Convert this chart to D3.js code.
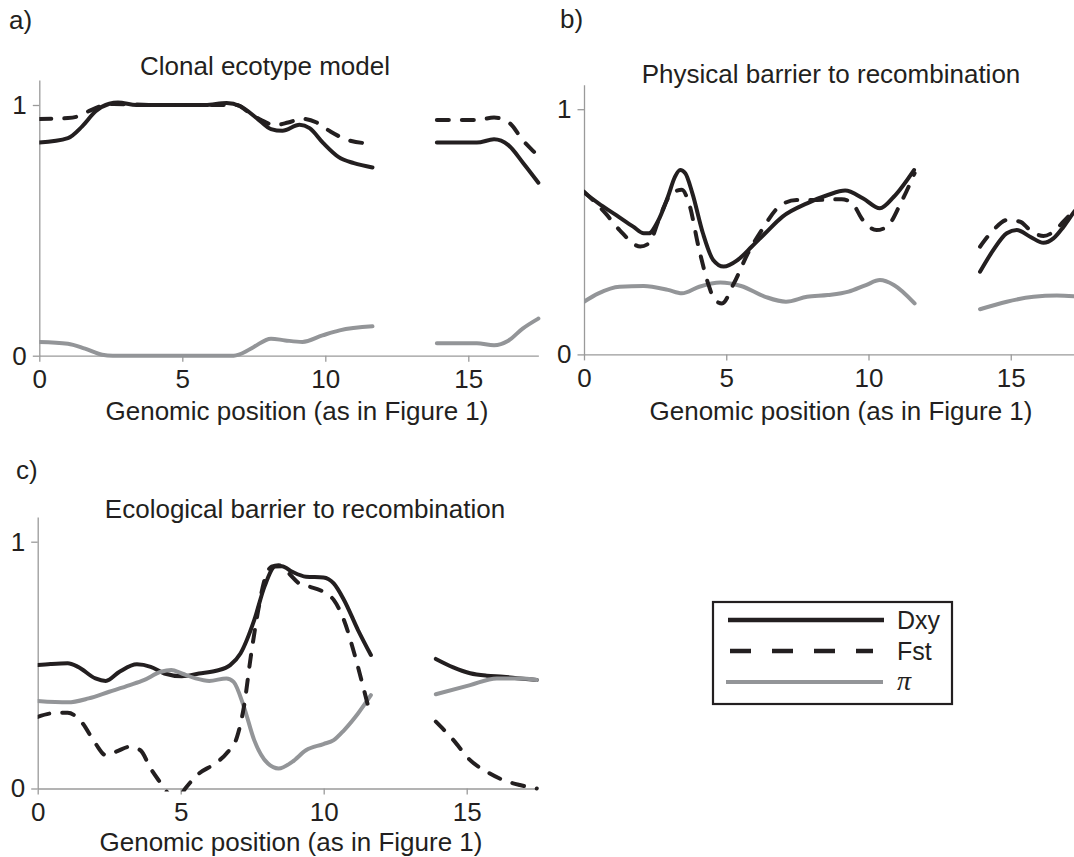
<!DOCTYPE html>
<meta charset="utf-8" />
<script src="https://d3js.org/d3.v7.min.js"></script>
<style>
  body { margin: 0; background: #fff; }
  text { font-family: "Liberation Sans", Arial, sans-serif; fill: #231f20; }
</style>
<div id="my_dataviz"></div>
<script>
  // genomic position ticks and value ticks
  const xTicks = [0, 5, 10, 15];
  const yTicks = [0, 1];

  // [position, value]; null marks the gap between the two segments
  const aDxy = [[0,0.85],[1.0,0.868],[1.5,0.915],[1.97,0.975],[2.45,1.005],[2.75,1.01],[3.4,1.0],[4.6,1.0],[5.8,1.0],[6.55,1.008],[7.03,0.995],[7.6,0.948],[8.1,0.904],[8.5,0.897],[9.1,0.921],[9.45,0.908],[9.93,0.848],[10.47,0.792],[11.0,0.768],[11.65,0.751],[12.8,null],[13.9,0.85],[15.3,0.85],[15.9,0.863],[16.4,0.84],[16.93,0.767],[17.45,0.69]];
  const aFst = [[0,0.944],[1.0,0.948],[1.36,0.955],[1.72,0.975],[2.2,0.997],[2.6,1.004],[4,1.0],[6.0,1.0],[6.9,1.0],[7.27,0.975],[7.76,0.94],[8.24,0.92],[8.7,0.93],[9.2,0.945],[9.7,0.93],[10.17,0.895],[10.77,0.861],[11.65,0.845],[12.8,null],[13.9,0.94],[15.3,0.94],[15.9,0.95],[16.45,0.927],[16.9,0.86],[17.35,0.807],[17.45,0.795]];
  const aPi = [[0,0.055],[1.0,0.048],[1.6,0.028],[2.2,0.004],[2.57,0],[6.8,0],[7.0,0.005],[7.5,0.035],[8.1,0.068],[8.6,0.061],[9.2,0.055],[9.9,0.081],[10.5,0.101],[11.65,0.117],[12.8,null],[13.9,0.05],[15.3,0.05],[15.9,0.042],[16.4,0.06],[16.9,0.108],[17.45,0.148]];

  const bDxy = [[0,0.66],[0.51,0.616],[1.12,0.569],[1.73,0.521],[2.1,0.494],[2.28,0.494],[2.59,0.541],[2.95,0.643],[3.2,0.725],[3.38,0.752],[3.56,0.739],[3.81,0.657],[4.18,0.494],[4.54,0.385],[4.91,0.358],[5.4,0.385],[5.9,0.44],[6.37,0.494],[6.98,0.562],[7.84,0.616],[8.57,0.65],[9.18,0.668],[9.8,0.637],[10.4,0.596],[10.89,0.643],[11.6,0.752],[12.8,null],[13.92,0.337],[14.39,0.426],[14.86,0.494],[15.21,0.507],[15.68,0.48],[16.15,0.455],[16.5,0.473],[16.85,0.52],[17.23,0.582],[17.45,0.615]];
  const bFst = [[0,0.664],[0.76,0.575],[1.25,0.507],[1.98,0.44],[2.28,0.453],[2.71,0.575],[3.08,0.657],[3.44,0.671],[3.69,0.616],[4.05,0.426],[4.36,0.29],[4.6,0.222],[4.85,0.208],[5.27,0.29],[5.76,0.412],[6.25,0.507],[6.86,0.603],[7.47,0.63],[8.2,0.63],[9.06,0.633],[9.43,0.616],[9.8,0.548],[10.28,0.507],[10.65,0.521],[11.13,0.616],[11.62,0.739],[12.8,null],[13.92,0.439],[14.39,0.507],[14.86,0.548],[15.33,0.541],[15.68,0.507],[16.15,0.483],[16.5,0.5],[16.85,0.541],[17.23,0.589],[17.45,0.62]];
  const bPi = [[0,0.215],[0.51,0.249],[1.25,0.276],[2.1,0.279],[2.95,0.263],[3.44,0.249],[4.05,0.276],[4.79,0.293],[5.52,0.279],[6.37,0.235],[7.1,0.215],[7.84,0.235],[8.57,0.242],[9.3,0.256],[9.91,0.283],[10.4,0.303],[10.89,0.283],[11.62,0.208],[12.8,null],[13.92,0.184],[14.86,0.215],[15.8,0.235],[16.62,0.24],[17.45,0.235]];

  const cDxy = [[0,0.5],[0.45,0.504],[1.05,0.507],[1.41,0.493],[2.02,0.446],[2.38,0.436],[2.86,0.473],[3.47,0.503],[3.95,0.493],[4.43,0.466],[5.04,0.455],[5.64,0.466],[6.24,0.477],[6.73,0.5],[7.09,0.547],[7.57,0.682],[7.93,0.818],[8.3,0.899],[8.54,0.901],[8.9,0.878],[9.38,0.858],[9.99,0.855],[10.35,0.831],[10.71,0.764],[11.2,0.642],[11.65,0.541],[12.8,null],[13.92,0.525],[14.53,0.491],[15.12,0.467],[15.7,0.457],[16.28,0.453],[16.86,0.446],[17.45,0.44]];
  const cFst = [[0,0.29],[0.45,0.304],[1.05,0.307],[1.53,0.27],[2.02,0.182],[2.38,0.135],[2.74,0.149],[3.22,0.169],[3.59,0.155],[3.95,0.081],[4.31,0.02],[4.49,-0.01],[4.85,-0.05],[5.16,0.0],[5.64,0.061],[6.12,0.095],[6.6,0.142],[6.97,0.209],[7.21,0.331],[7.45,0.534],[7.69,0.709],[7.93,0.845],[8.18,0.899],[8.42,0.905],[8.78,0.872],[9.14,0.831],[9.5,0.818],[9.99,0.797],[10.35,0.764],[10.71,0.682],[11.07,0.547],[11.44,0.385],[11.62,0.304],[12.8,null],[13.92,0.271],[14.53,0.197],[15.12,0.115],[15.7,0.068],[16.28,0.034],[16.86,0.014],[17.45,0.0]];
  const cPi = [[0,0.355],[1.05,0.349],[1.78,0.365],[2.5,0.392],[3.22,0.419],[3.71,0.439],[4.31,0.473],[4.67,0.48],[5.04,0.466],[5.52,0.446],[6.0,0.436],[6.6,0.446],[6.85,0.432],[7.21,0.331],[7.57,0.196],[8.05,0.101],[8.42,0.081],[8.9,0.108],[9.38,0.155],[9.99,0.18],[10.35,0.196],[10.71,0.236],[11.2,0.304],[11.65,0.378],[12.8,null],[13.92,0.382],[15.12,0.419],[16.05,0.446],[16.86,0.446],[17.45,0.44]];

  const seriesNames = ["Dxy", "Fst", "\u03c0"];

  const black = "#231f20",
    grey = "#939598";

  // panel layout (pixels)
  const panels = [
    { id: "a", letter: "a)", lx: 9, ly: 29, title: "Clonal ecotype model", tx: 265, ty: 75,
      left: 39.3, unit: 28.6, y0: 355.7, ppu: 250.7, labx: 297, laby: 420,
      dxy: aDxy, fst: aFst, pi: aPi },
    { id: "b", letter: "b)", lx: 560, ly: 28, title: "Physical barrier to recombination", tx: 831, ty: 83,
      left: 584, unit: 28.45, y0: 354.4, ppu: 245.2, labx: 841, laby: 420,
      dxy: bDxy, fst: bFst, pi: bPi },
    { id: "c", letter: "c)", lx: 16, ly: 479, title: "Ecological barrier to recombination", tx: 305, ty: 518,
      left: 37.7, unit: 28.6, y0: 788.5, ppu: 246.8, labx: 291, laby: 851,
      dxy: cDxy, fst: cFst, pi: cPi },
  ];

  const width = 1074,
    height = 857,
    xMax = 17.45;

  const svg = d3
    .select("#my_dataviz")
    .append("svg")
    .attr("width", width)
    .attr("height", height)
    .style("display", "block");

  svg.append("rect").attr("width", width).attr("height", height).attr("fill", "#fff");

  panels.forEach((p) => {
    const x = d3.scaleLinear().domain([0, xMax]).range([p.left, p.left + xMax * p.unit]);
    const y = d3.scaleLinear().domain([0, 1.1]).range([p.y0, p.y0 - 1.1 * p.ppu]);

    const g = svg.append("g");

    // panel letter and title
    g.append("text").attr("x", p.lx).attr("y", p.ly).style("font-size", "26px").text(p.letter);
    g.append("text")
      .attr("x", p.tx)
      .attr("y", p.ty)
      .attr("text-anchor", "middle")
      .style("font-size", "26px")
      .text(p.title);

    // axes
    const xAxis = g
      .append("g")
      .attr("transform", `translate(0, ${p.y0})`)
      .call(d3.axisBottom(x).tickValues(xTicks).tickSize(6).tickSizeOuter(0).tickPadding(8));
    const yAxis = g
      .append("g")
      .attr("transform", `translate(${p.left}, 0)`)
      .call(
        d3.axisLeft(y).tickValues(yTicks).tickFormat(d3.format("d"))
          .tickSize(6.5).tickSizeOuter(0).tickPadding(6)
      );
    [xAxis, yAxis].forEach((ax) => {
      ax.selectAll("path, line").attr("stroke", "#9a9a9a").attr("stroke-width", 1.3);
      ax.selectAll("text")
        .style("font-size", "26px")
        .style("font-family", '"Liberation Sans", Arial, sans-serif')
        .attr("fill", black);
    });

    g.append("text")
      .attr("x", p.labx)
      .attr("y", p.laby)
      .attr("text-anchor", "middle")
      .style("font-size", "26px")
      .text("Genomic position (as in Figure 1)");

    // clip the lines to the plot area
    g.append("clipPath")
      .attr("id", "clip-" + p.id)
      .append("rect")
      .attr("x", p.left)
      .attr("y", y(1.1) - 5)
      .attr("width", xMax * p.unit + 3)
      .attr("height", p.y0 - y(1.1) + 8);

    const line = d3
      .line()
      .defined((d) => d[1] !== null)
      .x((d) => x(d[0]))
      .y((d) => y(d[1]))
      .curve(d3.curveMonotoneX);

    const lines = g.append("g").attr("clip-path", `url(#clip-${p.id})`);
    lines.append("path").datum(p.dxy).attr("d", line)
      .attr("fill", "none").attr("stroke", black).attr("stroke-width", 4)
      .attr("stroke-linecap", "round").attr("stroke-linejoin", "round");
    lines.append("path").datum(p.pi).attr("d", line)
      .attr("fill", "none").attr("stroke", grey).attr("stroke-width", 4)
      .attr("stroke-linecap", "round").attr("stroke-linejoin", "round");
    lines.append("path").datum(p.fst).attr("d", line)
      .attr("fill", "none").attr("stroke", black).attr("stroke-width", 4)
      .attr("stroke-dasharray", "12,13")
      .attr("stroke-linecap", "round").attr("stroke-linejoin", "round");
  });

  // legend
  const legend = svg.append("g").attr("transform", "translate(713, 602)");
  legend.append("rect")
    .attr("width", 239).attr("height", 102)
    .attr("fill", "#fff").attr("stroke", black).attr("stroke-width", 2.2);

  const legendY = d3.scalePoint().domain(seriesNames).range([18, 80]);
  const legendStyle = {
    Dxy: { stroke: black, width: 4.5, dash: null, x1: 15, x2: 171 },
    Fst: { stroke: black, width: 4.5, dash: "21,21", x1: 17, x2: 160 },
    "\u03c0": { stroke: grey, width: 4, dash: null, x1: 13, x2: 170 },
  };
  seriesNames.forEach((name) => {
    const s = legendStyle[name];
    const isPi = name === "\u03c0";
    legend.append("line")
      .attr("x1", s.x1).attr("x2", s.x2)
      .attr("y1", legendY(name)).attr("y2", legendY(name))
      .attr("stroke", s.stroke).attr("stroke-width", s.width)
      .attr("stroke-dasharray", s.dash);
    legend.append("text")
      .attr("x", 184)
      .attr("y", legendY(name))
      .attr("dy", isPi ? "0.28em" : "0.36em")
      .style("font-size", isPi ? "28px" : "25px")
      .style("font-family", isPi ? '"Liberation Serif", "DejaVu Serif", serif' : null)
      .style("font-style", isPi ? "italic" : null)
      .text(name);
  });
</script>
